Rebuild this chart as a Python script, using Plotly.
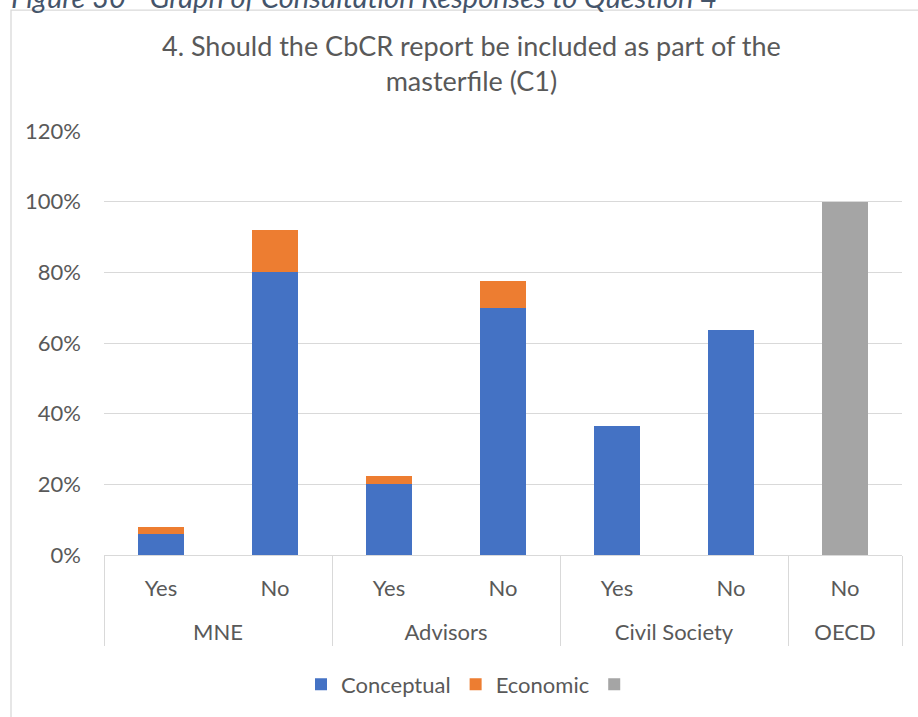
import plotly.graph_objects as go

# Respondent groups and answers (multi-category x axis)
groups = ["MNE", "MNE", "Advisors", "Advisors", "Civil Society", "Civil Society", "OECD"]
answers = ["Yes", "No", "Yes", "No", "Yes", "No", "No"]

# Share of responses by reasoning type
conceptual = [0.06, 0.80, 0.20, 0.70, 0.364, 0.636, None]
economic = [0.02, 0.12, 0.025, 0.075, None, None, None]
unspecified = [None, None, None, None, None, None, 1.00]

y_ticks = [0, 0.2, 0.4, 0.6, 0.8, 1.0, 1.2]
y_tick_labels = ["0%", "20%", "40%", "60%", "80%", "100%", "120%"]

title_text = "4. Should the CbCR report be included as part of the<br>masterfile (C1)"
caption_text = "Figure 30 - Graph of Consultation Responses to Question 4"

FONT = "Lato"
TEXT = "#595959"
GRID = "#D9D9D9"

W, H = 918, 717
L, R, T, B = 104, 16, 131, 160
PW, PH = W - L - R, H - T - B


def px_x(x):
    return (x - L) / PW


def px_y(y):
    return (H - B - y) / PH


# group names sit one line lower than the Yes/No row
group_labels = ["<br>" + g for g in groups]

fig = go.Figure()
fig.add_trace(go.Bar(x=[group_labels, answers], y=conceptual, name="Conceptual",
                     marker=dict(color="#4472C4", line=dict(width=0))))
fig.add_trace(go.Bar(x=[group_labels, answers], y=economic, name="Economic",
                     marker=dict(color="#ED7D31", line=dict(width=0))))
fig.add_trace(go.Bar(x=[group_labels, answers], y=unspecified, name=" ",
                     marker=dict(color="#A5A5A5", line=dict(width=0))))

shapes = [
    # chart-area border
    dict(type="rect", xref="paper", yref="paper",
         x0=px_x(11), x1=px_x(931), y0=px_y(740), y1=px_y(9.5),
         line=dict(color=GRID, width=1.3), fillcolor="rgba(0,0,0,0)", layer="below"),
]

fig.update_layout(
    width=W, height=H,
    margin=dict(l=L, r=R, t=T, b=B, pad=0),
    paper_bgcolor="white", plot_bgcolor="white",
    barmode="stack", bargap=0.6,
    font=dict(family=FONT, color=TEXT, size=22),
    xaxis=dict(type="multicategory", showgrid=False, showline=True,
               linecolor=GRID, linewidth=1.3,
               showdividers=True, dividercolor=GRID, dividerwidth=1.3,
               ticks="", ticklabelstandoff=13,
               tickfont=dict(size=22, color=TEXT, family=FONT)),
    yaxis=dict(range=[0, 1.2], tickvals=y_ticks, ticktext=y_tick_labels,
               showgrid=True, gridcolor=GRID, gridwidth=1.3,
               zeroline=False, showline=False, ticks="",
               ticklabelstandoff=22,
               tickfont=dict(size=22, color=TEXT, family=FONT)),
    legend=dict(orientation="h", x=px_x(473), xanchor="center",
                y=px_y(687), yanchor="middle", traceorder="normal",
                font=dict(size=22, color=TEXT, family=FONT),
                itemwidth=30, bgcolor="rgba(0,0,0,0)"),
    shapes=shapes,
    annotations=[
        # chart title
        dict(text=title_text, xref="paper", yref="paper",
             x=px_x(471), y=px_y(63), xanchor="center", yanchor="middle",
             showarrow=False, font=dict(family=FONT, size=27, color=TEXT)),
        # document caption above the chart frame
        dict(text="<i>" + caption_text + "</i>", xref="paper", yref="paper",
             x=px_x(9), y=px_y(15), xanchor="left", yanchor="bottom",
             showarrow=False, font=dict(family=FONT, size=29, color="#44546A")),
    ],
)

fig.write_html("out.html")
